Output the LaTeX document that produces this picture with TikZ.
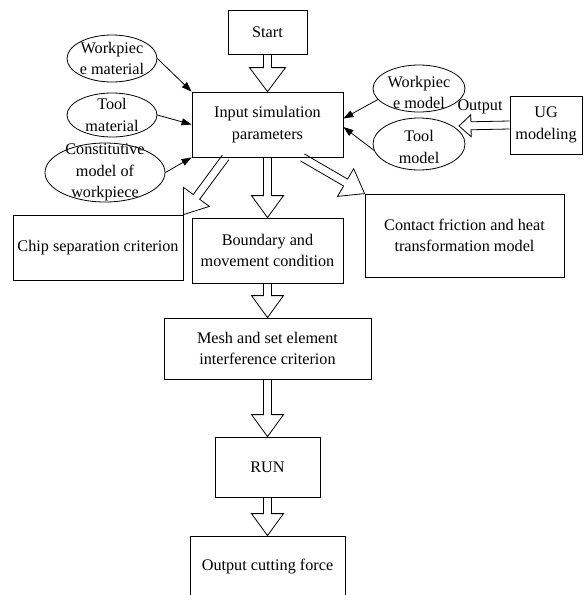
\documentclass[tikz,border=0pt]{standalone}
\usepackage{fontspec}
\setmainfont{Liberation Serif}
\usetikzlibrary{calc,arrows.meta,shapes.geometric}

\tikzset{
  box/.style={draw, rectangle, align=center, inner sep=2pt},
  oval/.style={draw, ellipse, inner sep=0pt},
  link/.style={-{Triangle[length=10pt,width=7pt]}},
  hollow/.style={draw, line join=miter},
}

% 空心箭头：起点，终点，箭头半宽，箭头长
\newcommand\harrow[4]{%
  \coordinate (hb) at ($(#2)!#4!(#1)$);
  \draw[hollow] ($(#1)!4pt!90:(#2)$) -- ($(hb)!4pt!-90:(#1)$)
    -- ($(hb)!#3!-90:(#1)$) -- (#2) -- ($(hb)!#3!90:(#1)$)
    -- ($(hb)!4pt!90:(#1)$) -- ($(#1)!4pt!-90:(#2)$);
}

\begin{document}
\begin{tikzpicture}[x=1pt, y=-1pt, line width=0.8pt, font=\fontsize{16.2}{21.5}\selectfont]
  \useasboundingbox (0,0) rectangle (587,595);
  \clip (0,0) rectangle (587,595);
  % 主流程
  \node[box, minimum width=79pt, minimum height=44pt]  (start)   at (267.5,32)    {Start};
  \node[box, minimum width=151pt, minimum height=65pt] (input)   at (267.5,124.5) {Input simulation\\parameters};
  \node[box, minimum width=170pt, minimum height=65pt] (chip)    at (98,247.5)    {Chip separation criterion};
  \node[box, minimum width=151pt, minimum height=65pt] (bnd)     at (267.5,250.5) {Boundary and\\movement condition};
  \node[box, minimum width=199pt, minimum height=83pt] (contact) at (464.5,235.5) {Contact friction and heat\\transformation model};
  \node[box, minimum width=207pt, minimum height=61pt] (mesh)    at (267.5,348.5) {Mesh and set element\\interference criterion};
  \node[box, minimum width=105pt, minimum height=60pt] (run)     at (267.5,467)   {RUN};
  \node[box, minimum width=155pt, minimum height=62pt] (out)     at (267.5,567)   {Output cutting force};
  \node[box, minimum width=72pt, minimum height=58pt]  (ug)      at (546,125)     {UG\\modeling};
  % 输入参数
  \node[oval, minimum width=90pt, minimum height=47pt, label={[align=center]center:Workpiec\\e material}] (wmat) at (112,58.5) {};
  \node[oval, minimum width=90pt, minimum height=44pt, label={[align=center]center:Tool\\material}] (tmat) at (112,115) {};
  \node[oval, minimum width=120pt, minimum height=59pt, label={[align=center]center:Constitutive\\model of\\workpiece}] (cmod) at (105,172.5) {};
  \node[oval, minimum width=92pt, minimum height=47pt, label={[align=center, yshift=-4pt]center:Workpiec\\e model}] (wmod) at (419,88.5) {};
  \node[oval, minimum width=92pt, minimum height=52pt, label={[align=center, yshift=-3pt]center:Tool\\model}] (tmod) at (419,144) {};
  \node (outlbl) at (480,107) {Output};
  % 细箭头
  \draw[link] (wmat.east) -- (input.north west);
  \draw[link] (tmat.east) -- (input.west);
  \draw[link] (cmod.east) -- (input.south west);
  \draw[link] (wmod.195) -- ([yshift=6pt]input.east);
  \draw[link] (tmod.188) -- ([yshift=-2.5pt]input.east);
  % 空心箭头
  \coordinate (c1) at ([xshift=34pt]input.south west);
  \coordinate (c2) at ([xshift=-41pt]input.south east);
  \coordinate (ugtip) at (459,126);
  \harrow{start.south}{input.north}{18pt}{24pt}
  \harrow{c1}{chip.north east}{16pt}{22pt}
  \harrow{input.south}{bnd.north}{16pt}{22pt}
  \harrow{c2}{contact.north west}{16pt}{22pt}
  \harrow{bnd.south}{mesh.north}{16pt}{22pt}
  \harrow{mesh.south}{run.north}{16pt}{22pt}
  \harrow{run.south}{out.north}{16pt}{22pt}
  \harrow{ug.west}{ugtip}{11pt}{12pt}
\end{tikzpicture}
\end{document}
